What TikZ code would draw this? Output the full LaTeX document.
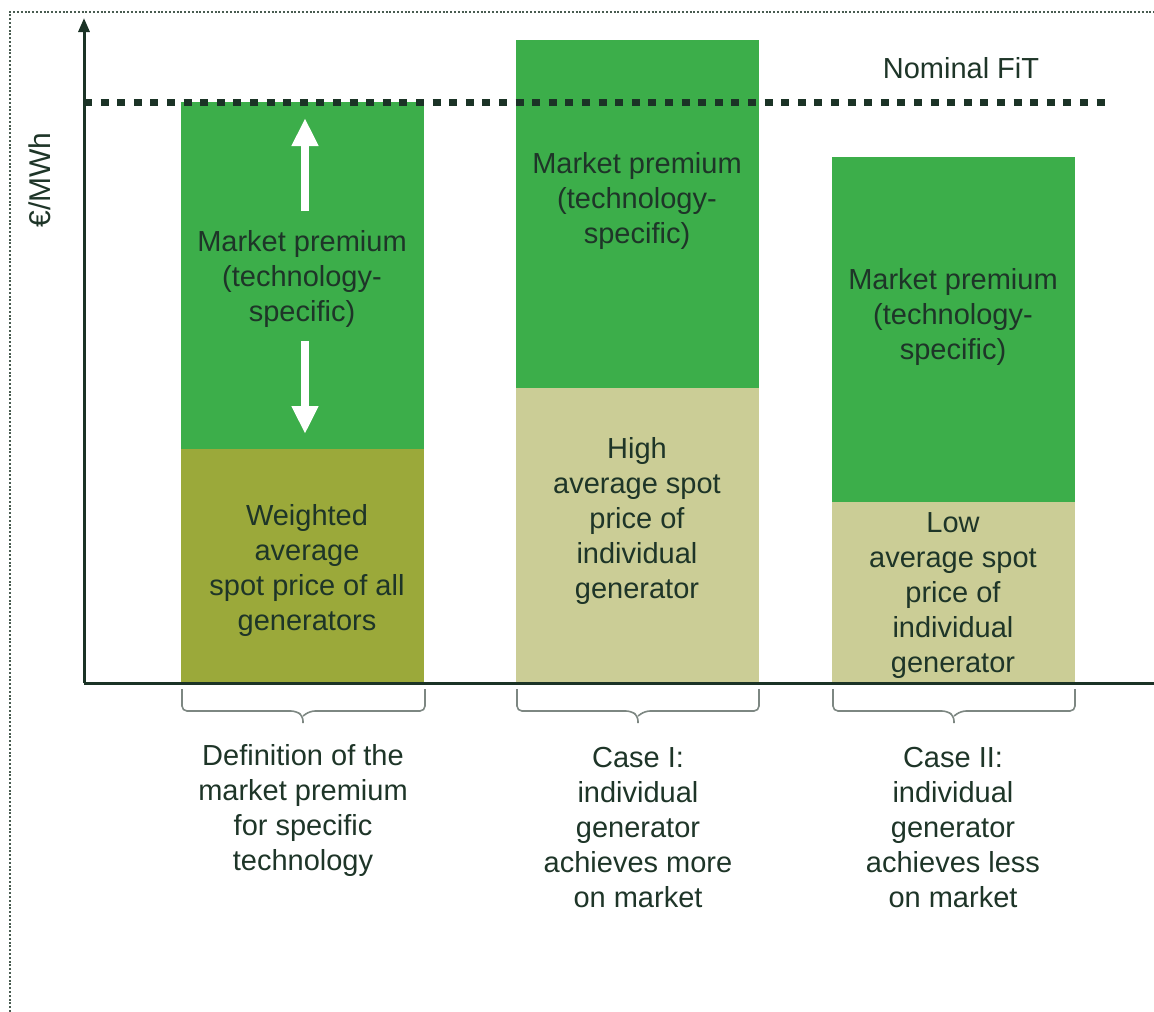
\documentclass[tikz,border=0pt]{standalone}
\usepackage{fontspec}
\setmainfont{Liberation Sans}
\usetikzlibrary{arrows.meta}
\definecolor{mpgreen}{HTML}{3CAE4A}
\definecolor{olive}{HTML}{9BA93A}
\definecolor{beige}{HTML}{CBCD96}
\definecolor{darkax}{HTML}{1B3326}
\definecolor{txtcol}{HTML}{1E3528}
\definecolor{bracecol}{HTML}{7D8782}
\begin{document}
\begin{tikzpicture}[x=1pt,y=-1pt,
  txt/.style={font=\fontsize{29}{35}\selectfont, text=txtcol, align=center, inner sep=0pt},
  barbox/.style={draw=none, inner sep=0pt, minimum width=243pt, anchor=north west},
  bracepath/.style={draw=bracecol, line width=1.6pt, rounded corners=5pt},
  whitearrow/.style={white, line width=8pt, -{Triangle[length=28pt,width=25pt]}}]
\useasboundingbox (0,0) rectangle (1154,1012);
% dotted frame
\draw[darkax!80, line width=2.2pt, dash pattern=on 2pt off 1.8pt] (10,1012) -- (10,12) -- (1154,12);
% bars
\node[barbox, fill=mpgreen, minimum height=347pt] (b1top) at (181,102) {};
\node[barbox, fill=olive, minimum height=233pt] (b1bot) at (181,449) {};
\node[barbox, fill=mpgreen, minimum height=348pt] (b2top) at (516,40) {};
\node[barbox, fill=beige, minimum height=294pt] (b2bot) at (516,388) {};
\node[barbox, fill=mpgreen, minimum height=345pt] (b3top) at (832,157) {};
\node[barbox, fill=beige, minimum height=180pt] (b3bot) at (832,502) {};
% texts in bars
\node[txt] (t1a) at (302,279) {Market premium\\(technology-\\specific)};
\node[txt] (t1b) at (307,570) {Weighted\\average\\spot price of all\\generators};
\node[txt] (t2a) at (637,201) {Market premium\\(technology-\\specific)};
\node[txt] (t2b) at (637,521) {High\\average spot\\price of\\individual\\generator};
\node[txt] (t3a) at (953,317) {Market premium\\(technology-\\specific)};
\node[txt] (t3b) at (953,596) {Low\\average spot\\price of\\individual\\generator};
% white arrows
\coordinate (ua) at (305,211);
\coordinate (ub) at (305,118);
\coordinate (da) at (305,341);
\coordinate (db) at (305,434);
\draw[whitearrow] (ua) -- (ub);
\draw[whitearrow] (da) -- (db);
% axes
\coordinate (O) at (84,683);
\coordinate (Ytop) at (84,18);
\coordinate (Xend) at (1154,683);
\draw[darkax, line width=3pt, -{Triangle[length=14pt,width=11pt]}] (O) -- (Ytop);
\draw[darkax, line width=3pt] (O) -- (Xend);
% nominal FiT line
\coordinate (f1) at (84,102);
\coordinate (f2) at (1112,102);
\draw[darkax, line width=7pt, dash pattern=on 8pt off 8.6pt] (f1) -- (f2);
\node[txt] (fit) at (961,68) {Nominal FiT};
\node[txt, rotate=90, font=\fontsize{30}{35}\selectfont] (unit) at (40,180) {€/MWh};
% braces
\draw[bracepath] (182,689) -- (182,711) -- (296,711) -- (303,716) -- (303,723);
\draw[bracepath] (425,689) -- (425,711) -- (310,711) -- (303,716);
\draw[bracepath] (517,689) -- (517,711) -- (631,711) -- (638,716) -- (638,723);
\draw[bracepath] (759,689) -- (759,711) -- (645,711) -- (638,716);
\draw[bracepath] (833,689) -- (833,711) -- (947,711) -- (954,716) -- (954,723);
\draw[bracepath] (1075,689) -- (1075,711) -- (961,711) -- (954,716);
% bottom labels
\node[txt] (l1) at (303,810) {Definition of the\\market premium\\for specific\\technology};
\node[txt] (l2) at (638,828) {Case I:\\individual\\generator\\achieves more\\on market};
\node[txt] (l3) at (953,828) {Case II:\\individual\\generator\\achieves less\\on market};
\end{tikzpicture}
\end{document}
